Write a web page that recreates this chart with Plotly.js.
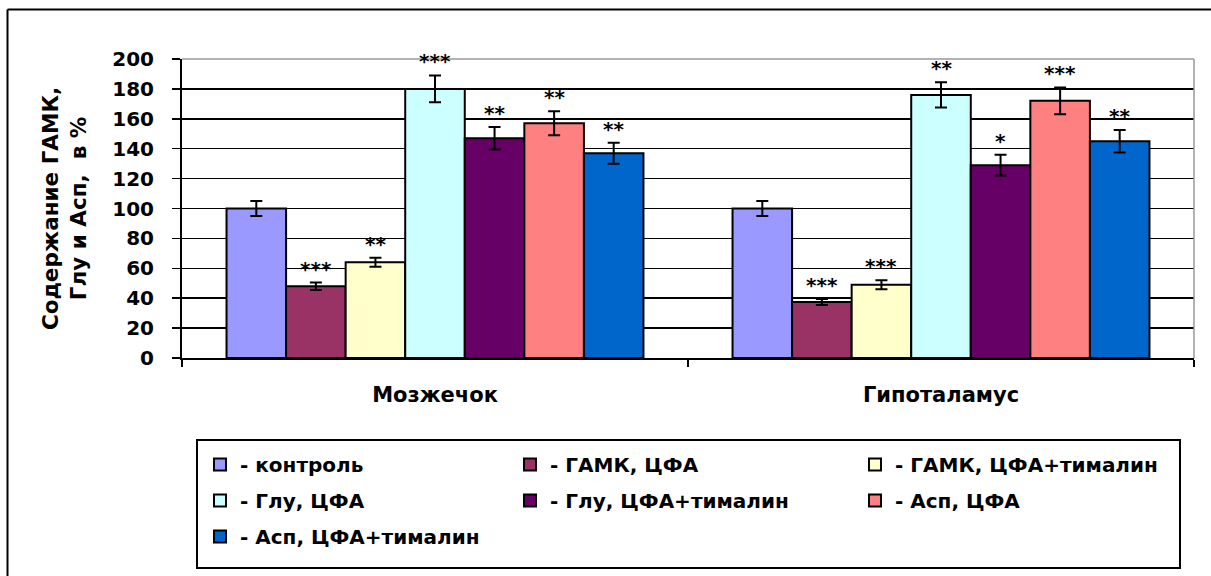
<!DOCTYPE html>
<html>
<head>
<meta charset="utf-8">
<script src="https://cdn.plot.ly/plotly-3.0.1.min.js"></script>
<style>html,body{margin:0;padding:0;background:#fff;}#chart{width:1211px;height:576px;}</style>
</head>
<body>
<div id="chart"></div>
<script>
// ---- data ----
var categories = ['Мозжечок', 'Гипоталамус'];
var seriesNames = ['- контроль', '- ГАМК, ЦФА', '- ГАМК, ЦФА+тималин', '- Глу, ЦФА', '- Глу, ЦФА+тималин', '- Асп, ЦФА', '- Асп, ЦФА+тималин'];
var control   = [100, 100];
var gabaCpa   = [48, 37.5];
var gabaCpaT  = [64, 49];
var gluCpa    = [180, 176];
var gluCpaT   = [147, 129];
var aspCpa    = [157, 172];
var aspCpaT   = [137, 145];
var errControl  = [5, 5];
var errGabaCpa  = [2.5, 2];
var errGabaCpaT = [3, 3];
var errGluCpa   = [9, 8.5];
var errGluCpaT  = [7.5, 7];
var errAspCpa   = [8, 9];
var errAspCpaT  = [7, 7.5];
var starsControl  = ['', ''];
var starsGabaCpa  = ['***', '***'];
var starsGabaCpaT = ['**', '***'];
var starsGluCpa   = ['***', '**'];
var starsGluCpaT  = ['**', '*'];
var starsAspCpa   = ['**', '***'];
var starsAspCpaT  = ['**', '**'];
var yTickVals = [0, 20, 40, 60, 80, 100, 120, 140, 160, 180, 200];

// ---- styling ----
var values = [control, gabaCpa, gabaCpaT, gluCpa, gluCpaT, aspCpa, aspCpaT];
var errors = [errControl, errGabaCpa, errGabaCpaT, errGluCpa, errGluCpaT, errAspCpa, errAspCpaT];
var stars = [starsControl, starsGabaCpa, starsGabaCpaT, starsGluCpa, starsGluCpaT, starsAspCpa, starsAspCpaT];
var colors = ['#9999FF', '#993366', '#FFFFCC', '#CCFFFF', '#660066', '#FF8080', '#0066CC'];
var legendOf = ['legend', 'legend2', 'legend3', 'legend', 'legend2', 'legend3', 'legend'];
var FONT = 'DejaVu Sans, Liberation Sans, Arial, sans-serif';
var W = 1211, H = 576;
var M = {l: 182, r: 17, t: 59, b: 218, autoexpand: false};
var bargap = 0.176;

var traces = values.map(function (v, j) {
  return {
    type: 'bar', x: categories, y: v, name: seriesNames[j],
    marker: {color: colors[j], line: {color: '#000', width: 2}},
    error_y: {type: 'data', array: errors[j], visible: true, color: '#000', thickness: 2, width: 6},
    legend: legendOf[j], legendgroup: 'g' + j, hoverinfo: 'skip'
  };
});

var nS = values.length;
var bw = (1 - bargap) / nS;
var annotations = [];
stars.forEach(function (s, j) {
  s.forEach(function (txt, i) {
    if (!txt) return;
    annotations.push({
      xref: 'x', yref: 'y', x: i - (1 - bargap) / 2 + bw * (j + 0.5), y: values[j][i] + errors[j][i],
      text: txt, showarrow: false, yanchor: 'bottom', xanchor: 'center', yshift: 0,
      font: {family: FONT, size: 20, color: '#000', weight: 'bold'}
    });
  });
});

// pixel helpers (container px -> paper)
var pw = W - M.l - M.r, ph = H - M.t - M.b;
function px(x) { return (x - M.l) / pw; }
function py(y) { return (H - M.b - y) / ph; }

var shapes = [
  // outer frame: only left and top edges are visible in the picture
  {type: 'line', xref: 'paper', yref: 'paper', x0: px(7.5), x1: px(7.5), y0: py(9.5), y1: py(580), line: {color: '#000', width: 2}},
  {type: 'line', xref: 'paper', yref: 'paper', x0: px(7.5), x1: px(1215), y0: py(9.5), y1: py(9.5), line: {color: '#000', width: 2}},
  // plot area border top/right (grey)
  {type: 'line', xref: 'paper', yref: 'paper', x0: 0, x1: 1, y0: 1, y1: 1, line: {color: '#999', width: 1.5}},
  {type: 'line', xref: 'paper', yref: 'paper', x0: 1, x1: 1, y0: 0, y1: 1, line: {color: '#999', width: 1.5}},
  // legend frame
  {type: 'rect', xref: 'paper', yref: 'paper', x0: px(197), x1: px(1180), y0: py(440), y1: py(568), line: {color: '#000', width: 2}}
];

var legFont = {family: FONT, size: 20, color: '#000', weight: 'bold'};
function leg(x) {
  return {xref: 'paper', yref: 'paper', x: px(x), y: py(445), xanchor: 'left', yanchor: 'top',
    orientation: 'v', font: legFont, bgcolor: 'rgba(0,0,0,0)', borderwidth: 0, tracegroupgap: 7, itemwidth: 30, traceorder: 'grouped'};
}

var layout = {
  width: W, height: H, margin: M,
  paper_bgcolor: '#fff', plot_bgcolor: '#fff',
  barmode: 'group', bargap: bargap, bargroupgap: 0,
  font: {family: FONT, color: '#000'},
  xaxis: {
    type: 'category', showline: true, linecolor: '#000', linewidth: 2, automargin: false,
    ticks: 'outside', tickson: 'boundaries', ticklen: 7, tickwidth: 2, tickcolor: '#000',
    tickfont: {family: FONT, size: 21, color: '#000', weight: 'bold'}, ticklabelstandoff: 17,
    showgrid: false, zeroline: false, fixedrange: true
  },
  yaxis: {
    range: [0, 200], tickvals: yTickVals, ticktext: yTickVals.map(String), automargin: false,
    showline: true, linecolor: '#000', linewidth: 2,
    ticks: 'outside', ticklen: 8, tickwidth: 1.5, tickcolor: '#000',
    tickfont: {family: FONT, size: 20, color: '#000', weight: 'bold'}, ticklabelstandoff: 14,
    showgrid: true, gridcolor: '#000', gridwidth: 1.5, zeroline: false, fixedrange: true,
    title: {text: 'Содержание ГАМК,<br>Глу и Асп,  в %', font: {family: FONT, size: 21.5, color: '#000', weight: 'bold'}, standoff: 20}
  },
  showlegend: true,
  legend: leg(200),
  legend2: leg(510),
  legend3: leg(855),
  annotations: annotations,
  shapes: shapes
};

Plotly.newPlot('chart', traces, layout, {displayModeBar: false, staticPlot: true});
</script>
</body>
</html>
